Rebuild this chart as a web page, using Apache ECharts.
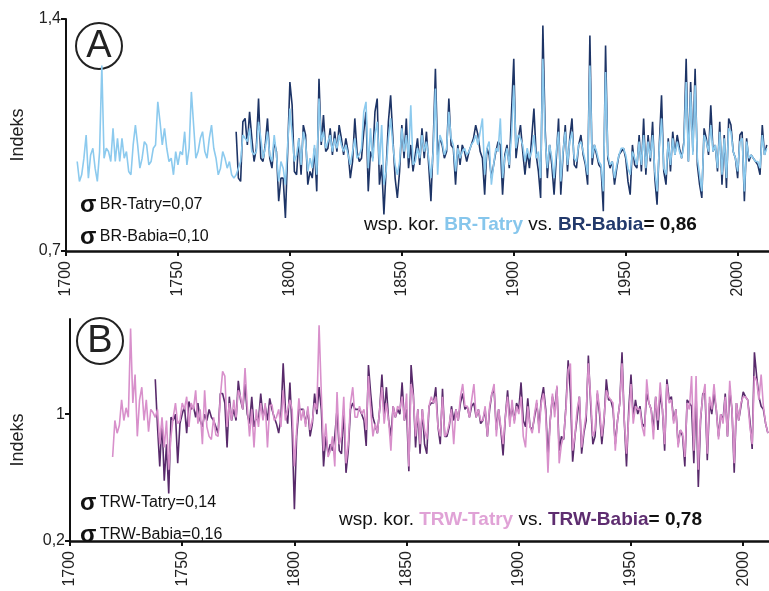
<!DOCTYPE html>
<html>
<head>
<meta charset="utf-8">
<script src="https://cdn.jsdelivr.net/npm/echarts@6/dist/echarts.min.js"></script>
<style>
  html, body { margin: 0; padding: 0; background: #fff; }
  #chart { width: 769px; height: 591px; }
</style>
</head>
<body>
<div id="chart"></div>
<script>
// panel A - BR index
const brTatryStart = 1705;
const brTatry = [
  0.97,0.91,0.93,0.98,1.05,0.92,0.99,1.01,0.95,0.91,
  1.00,1.26,0.98,1.01,1.00,0.97,1.07,0.97,1.04,0.97,
  1.04,0.98,1.00,0.94,0.93,1.02,1.08,1.02,0.95,0.98,
  1.03,1.02,0.96,0.97,1.01,1.02,1.15,1.09,1.02,1.07,
  1.01,0.97,0.98,0.93,1.00,0.96,1.00,0.99,1.06,0.96,
  1.01,1.18,1.08,0.98,1.00,1.04,1.06,1.00,0.98,1.04,
  1.08,1.01,0.98,0.93,0.95,1.00,0.98,0.95,0.97,0.93,
  0.92,
  0.93,0.95,0.97,1.05,1.04,1.03,1.07,1.00,0.99,1.00,
  1.09,1.04,0.98,1.01,1.06,0.99,0.97,1.05,0.99,0.91,
  0.97,0.95,0.90,1.02,1.13,1.05,0.97,0.99,1.04,0.96,
  1.06,1.03,0.94,0.98,0.95,1.02,0.93,1.16,1.03,1.06,
  1.01,1.03,1.05,1.00,1.04,1.01,1.05,1.02,1.00,1.02,
  0.99,
  0.96,1.00,1.04,0.98,0.99,1.01,1.12,1.15,0.95,1.07,
  0.97,1.05,1.09,0.96,1.08,0.90,0.94,1.04,1.10,1.02,
  0.96,0.93,0.97,1.07,1.00,1.05,0.98,1.14,0.96,0.97,
  1.01,0.98,1.05,1.00,1.03,0.98,0.92,1.00,1.19,0.93,
  1.05,1.03,0.99,1.01,1.12,1.04,1.02,0.94,1.01,0.98,
  1.00,1.01,0.99,1.00,1.02,1.03,1.05,1.02,1.06,1.10,
  0.93,1.01,
  1.03,0.90,0.96,1.01,1.00,1.10,0.92,0.98,1.01,0.96,
  1.05,1.20,1.01,1.05,1.04,1.02,0.97,1.01,0.98,1.00,
  1.05,0.98,1.00,0.92,1.28,1.04,0.95,1.02,0.98,0.92,
  1.00,1.06,0.91,1.00,1.06,0.96,1.03,1.06,0.98,0.97,
  1.02,1.03,1.00,0.97,0.93,1.26,0.98,1.02,1.00,0.97,
  0.96,0.88,1.24,0.99,0.96,0.97,0.92,0.96,0.99,1.01,
  1.01,0.99,
  0.95,0.93,1.00,0.98,0.96,1.03,0.96,1.05,0.95,1.03,
  0.98,1.05,0.94,0.88,1.01,1.10,0.95,0.93,1.03,0.96,
  1.04,0.99,1.03,1.00,0.98,1.02,1.21,0.97,1.18,0.99,
  1.20,0.98,0.93,0.88,1.05,1.03,1.00,1.08,1.00,1.02,
  0.95,1.06,0.93,1.04,0.92,1.07,1.06,1.00,0.98,0.94,
  1.03,1.04,0.88,1.03,0.98,0.99,0.98,0.97,0.97,0.95,
  1.05,0.99,1.01
];

const brBabiaStart = 1776;
const brBabia = [
  1.06,0.92,0.91,1.09,1.10,1.02,1.12,1.04,0.97,1.01,
  1.16,0.98,0.97,1.02,1.10,0.98,0.95,1.03,1.00,0.85,
  0.92,0.92,0.80,1.00,1.21,1.14,0.94,0.93,1.04,0.93,
  1.08,1.05,0.90,0.94,0.92,1.01,0.88,1.22,1.02,1.11,
  1.00,1.01,1.07,0.99,1.06,1.00,1.08,1.04,0.99,1.04,
  1.00,
  0.92,0.97,1.10,1.00,0.97,0.98,1.06,1.12,0.88,1.00,
  0.98,1.12,1.16,0.90,0.96,0.81,0.95,1.09,1.17,1.04,
  0.92,0.86,0.94,1.08,0.98,1.10,0.95,1.02,0.94,0.99,
  1.04,0.96,1.07,0.98,1.06,0.96,0.85,1.02,1.25,0.99,
  1.04,1.02,0.98,1.00,1.16,1.02,1.01,0.90,1.02,0.96,
  1.02,1.00,0.97,1.00,1.02,1.04,1.08,1.05,1.00,0.98,
  0.87,1.01,
  0.99,0.92,0.96,1.00,1.03,1.02,0.87,0.99,1.02,0.95,
  1.12,1.28,0.98,1.04,1.08,1.00,0.93,1.00,0.95,1.04,
  1.13,0.99,0.94,0.86,1.38,1.07,0.92,1.02,0.96,0.87,
  0.98,1.10,0.87,0.99,1.08,0.94,1.04,1.10,0.96,0.95,
  1.02,1.05,0.99,0.96,0.90,1.35,0.96,1.02,0.99,0.96,
  0.95,0.82,1.32,0.98,0.95,0.97,0.90,0.95,0.99,1.00,
  1.01,0.98,
  0.91,0.87,1.02,0.96,0.95,1.05,0.94,1.10,0.93,1.05,
  0.97,1.09,0.92,0.84,1.02,1.17,0.94,0.90,1.04,0.94,
  1.06,0.99,1.05,1.01,0.98,1.03,1.28,0.97,1.21,1.00,
  1.25,0.96,0.90,0.86,1.07,1.04,0.99,1.14,1.00,1.02,
  0.94,1.09,0.90,1.05,0.89,1.10,1.08,1.00,0.98,0.92,
  1.05,1.06,0.85,1.04,0.97,0.99,0.98,0.97,0.96,0.93,
  1.08,0.99,1.02
];

// panel B - TRW index
const trwTatryStart = 1719;
const trwTatry = [
  0.73,0.96,0.88,0.93,1.09,0.96,1.04,0.98,1.54,1.07,
  1.25,0.86,1.09,1.17,0.96,1.09,0.89,1.03,1.01,0.98,
  1.03,0.81,0.98,0.79,0.96,0.65,0.86,0.98,1.07,0.94,
  0.96,1.07,1.03,1.11,0.92,1.07,1.03,1.15,0.94,1.03,
  0.81,1.15,0.92,0.86,
  0.84,0.98,0.87,0.86,1.11,1.27,1.24,0.92,1.07,0.96,
  1.09,0.98,1.15,1.11,1.03,1.29,1.05,0.86,1.03,0.79,
  1.03,0.92,1.07,0.96,1.07,0.79,1.05,1.06,0.96,0.98,
  1.03,0.92,1.15,0.96,1.03,1.09,1.03,0.67,0.90,1.10,
  0.96,1.03,0.92,1.05,0.90,0.96,1.07,1.03,1.56,1.13,
  0.77,0.94,0.73,0.77,0.86,0.67,1.14,0.81,0.86,1.11,
  0.69,0.81,
  1.07,1.17,0.98,0.98,1.05,1.00,1.03,0.90,1.24,1.03,
  0.86,0.94,0.88,1.03,1.17,0.94,1.07,0.96,0.77,1.05,
  0.98,1.05,1.03,1.11,0.96,1.13,0.67,1.19,1.11,0.86,
  1.03,0.81,1.03,0.90,0.84,1.05,1.11,1.07,1.11,0.92,
  0.86,1.11,0.86,0.88,0.94,1.03,0.81,1.03,0.96,1.11,
  1.19,1.05,1.05,0.98,1.09,1.19,0.98,1.03,0.96,0.96,
  1.05,0.86,
  1.05,1.13,1.19,0.86,1.03,0.92,0.81,0.98,1.11,0.92,
  1.09,0.94,1.05,1.00,1.11,0.86,0.79,1.05,0.92,0.88,
  1.00,1.09,0.88,1.07,1.13,1.00,0.63,0.96,1.13,0.98,
  1.18,0.69,0.81,0.86,1.03,1.28,1.32,0.77,0.86,1.03,
  1.11,0.79,0.90,1.00,1.32,1.11,0.86,0.90,1.15,1.03,
  0.86,0.98,1.15,1.11,1.09,1.07,0.77,0.96,1.07,1.32,
  0.96,0.75,
  0.98,1.19,0.94,1.05,1.03,1.03,0.92,0.86,1.22,1.07,
  1.03,0.84,1.11,0.96,1.20,1.03,0.81,1.19,1.07,1.09,
  0.94,1.03,0.79,0.90,0.88,0.73,1.07,1.03,1.24,0.77,
  1.24,0.65,0.98,1.11,1.19,0.75,1.11,1.03,1.19,1.03,
  0.84,1.00,0.94,1.11,0.86,1.21,1.03,0.69,1.07,0.96,
  1.07,1.11,1.11,1.09,0.92,0.81,1.24,1.21,1.09,1.25,
  1.05,0.94,0.88
];

const trwBabiaStart = 1738;
const trwBabia = [
  1.22,0.92,0.67,0.96,0.58,0.81,0.50,0.98,0.96,1.00,
  0.69,0.94,1.00,1.05,0.88,1.08,1.03,1.05,0.98,1.07,
  0.96,0.92,1.00,0.96,1.03,
  0.98,0.96,0.92,0.88,1.13,1.13,1.07,0.79,1.11,0.96,
  1.03,0.96,1.21,1.09,1.03,1.19,1.00,0.94,1.11,0.92,
  0.98,0.96,1.13,0.98,1.05,0.96,1.10,1.03,0.98,0.94,
  0.88,0.98,1.32,1.03,0.94,1.20,0.90,0.40,0.86,1.03,
  1.03,1.03,0.94,1.03,0.86,0.94,1.13,1.00,1.17,1.03,
  0.67,0.86,0.75,0.81,0.77,0.86,1.03,0.77,0.75,1.03,
  0.63,0.77,
  1.03,1.07,1.03,1.03,1.03,1.00,0.96,0.80,1.31,1.13,
  0.98,0.93,0.88,1.03,1.25,1.00,1.17,0.96,0.86,1.05,
  0.98,1.03,1.00,1.20,0.96,1.03,0.64,1.31,1.13,0.79,
  1.03,0.75,1.03,0.81,0.75,1.05,1.07,1.07,1.17,0.92,
  0.81,1.16,0.86,0.86,0.92,1.05,0.96,1.03,0.96,1.07,
  1.13,1.03,1.05,0.98,1.05,1.07,0.98,1.03,0.94,0.96,
  1.03,0.86,
  1.03,1.13,1.15,0.90,1.03,0.90,0.74,0.98,1.15,0.96,
  1.05,0.96,1.07,1.03,1.20,0.96,0.92,1.10,0.92,0.90,
  0.98,1.07,0.92,1.09,1.17,1.03,0.73,0.96,1.11,1.03,
  1.17,0.77,0.86,0.84,1.05,1.34,1.13,0.70,0.86,0.98,
  1.11,0.75,0.88,0.96,1.37,1.07,0.81,0.86,1.13,1.00,
  0.81,0.96,1.22,1.09,1.09,1.03,0.81,0.96,1.07,1.39,
  0.96,0.67,
  1.03,1.25,0.98,1.09,1.00,1.05,0.94,0.92,1.13,1.07,
  1.03,0.90,1.11,0.90,1.13,1.03,0.77,1.22,1.09,1.11,
  0.96,1.03,0.81,0.90,0.86,0.67,1.09,1.07,1.05,0.69,
  1.13,0.54,0.96,1.13,1.13,0.71,1.07,1.00,1.13,1.03,
  0.86,1.00,0.96,1.13,0.86,1.15,1.03,0.63,1.07,0.96,
  1.05,1.14,1.11,1.09,0.96,0.78,1.39,1.24,1.11,1.05,
  1.03,0.94,0.88
];

const yearTicks = [1700, 1750, 1800, 1850, 1900, 1950, 2000];
const ticksA = [0.7, 1.4];
const ticksB = [0.2, 1];

const FONT = '"Liberation Sans", Arial, sans-serif';
const C_TATRY_BR = '#8ccaee';
const C_BABIA_BR = '#1d3466';
const C_TATRY_TRW = '#d890cb';
const C_BABIA_TRW = '#582a6b';

function pairs(start, arr) {
  return arr.map((v, i) => [start + i, v]);
}

function fmtComma(v) {
  if (Math.abs(v - Math.round(v)) < 1e-9) return String(Math.round(v));
  return v.toFixed(1).replace('.', ',');
}

function xAxisCfg(gridIndex, max) {
  return {
    type: 'value', gridIndex: gridIndex, min: 1700, max: max,
    axisLine: { show: true, lineStyle: { color: '#111', width: 2.5 } },
    axisTick: { show: true, length: 5, customValues: yearTicks, lineStyle: { color: '#111', width: 2 } },
    axisLabel: {
      customValues: yearTicks, rotate: 90, margin: 10, fontSize: 16, color: '#222', fontFamily: FONT,
      formatter: v => String(Math.round(v))
    },
    splitLine: { show: false }
  };
}

function yAxisCfg(gridIndex, min, max, ticks) {
  return {
    type: 'value', gridIndex: gridIndex, min: min, max: max,
    axisLine: { show: true, lineStyle: { color: '#111', width: 2 } },
    axisTick: { show: true, length: 5, customValues: ticks, lineStyle: { color: '#111', width: 2 } },
    axisLabel: { customValues: ticks, margin: 5, fontSize: 16, color: '#222', fontFamily: FONT, formatter: fmtComma },
    splitLine: { show: false }
  };
}

function lineSeries(name, data, color, xi) {
  return {
    name: name, type: 'line', xAxisIndex: xi, yAxisIndex: xi,
    data: data, showSymbol: false, symbol: 'none',
    lineStyle: { color: color, width: 1.6 },
    itemStyle: { color: color },
    animation: false, silent: true
  };
}

const chart = echarts.init(document.getElementById('chart'));

const sigmaRich = {
  s: { font: 'bold 24px ' + FONT, fill: '#111' },
  n: { font: '16px ' + FONT, fill: '#111' }
};

function corrRich(cT, cB) {
  return {
    n: { font: '19px ' + FONT, fill: '#111' },
    t: { font: 'bold 19px ' + FONT, fill: cT },
    b: { font: 'bold 19px ' + FONT, fill: cB },
    k: { font: 'bold 19px ' + FONT, fill: '#111' }
  };
}

const option = {
  backgroundColor: '#fff',
  animation: false,
  grid: [
    { left: 66, right: 0, top: 19, height: 232 },
    { left: 70, right: 0, top: 319, height: 222 }
  ],
  xAxis: [xAxisCfg(0, 2014), xAxisCfg(1, 2011.5)],
  yAxis: [yAxisCfg(0, 0.7, 1.4, ticksA), yAxisCfg(1, 0.2, 1.6, ticksB)],
  series: [
    lineSeries('BR-Babia', pairs(brBabiaStart, brBabia), C_BABIA_BR, 0),
    lineSeries('BR-Tatry', pairs(brTatryStart, brTatry), C_TATRY_BR, 0),
    lineSeries('TRW-Babia', pairs(trwBabiaStart, trwBabia), C_BABIA_TRW, 1),
    lineSeries('TRW-Tatry', pairs(trwTatryStart, trwTatry), C_TATRY_TRW, 1)
  ],
  graphic: [
    // panel letters
    { type: 'circle', shape: { cx: 99, cy: 46, r: 23 }, style: { fill: 'none', stroke: '#222', lineWidth: 2 } },
    { type: 'text', x: 99, y: 47, style: { text: 'A', font: '38px ' + FONT, fill: '#222', align: 'center', verticalAlign: 'middle' } },
    { type: 'circle', shape: { cx: 100, cy: 341, r: 23 }, style: { fill: 'none', stroke: '#222', lineWidth: 2 } },
    { type: 'text', x: 100, y: 342, style: { text: 'B', font: '38px ' + FONT, fill: '#222', align: 'center', verticalAlign: 'middle' } },
    // y axis names
    { type: 'text', x: 18, y: 135, rotation: Math.PI / 2, style: { text: 'Indeks', font: '18px ' + FONT, fill: '#222', align: 'center', verticalAlign: 'middle' } },
    { type: 'text', x: 18, y: 440, rotation: Math.PI / 2, style: { text: 'Indeks', font: '18px ' + FONT, fill: '#222', align: 'center', verticalAlign: 'middle' } },
    // sigma labels
    { type: 'text', x: 80, y: 205, style: { text: '{s|σ} {n|BR-Tatry=0,07}', verticalAlign: 'middle', rich: sigmaRich } },
    { type: 'text', x: 80, y: 237, style: { text: '{s|σ} {n|BR-Babia=0,10}', verticalAlign: 'middle', rich: sigmaRich } },
    { type: 'text', x: 80, y: 503, style: { text: '{s|σ} {n|TRW-Tatry=0,14}', verticalAlign: 'middle', rich: sigmaRich } },
    { type: 'text', x: 80, y: 535, style: { text: '{s|σ} {n|TRW-Babia=0,16}', verticalAlign: 'middle', rich: sigmaRich } },
    // correlation labels
    { type: 'text', x: 364, y: 225, style: {
      text: '{n|wsp. kor. }{t|BR-Tatry}{n| vs. }{b|BR-Babia}{k|= 0,86}', verticalAlign: 'middle',
      rich: corrRich('#86c6ec', '#22396b') } },
    { type: 'text', x: 339, y: 520, style: {
      text: '{n|wsp. kor. }{t|TRW-Tatry}{n| vs. }{b|TRW-Babia}{k|= 0,78}', verticalAlign: 'middle',
      rich: corrRich('#e0a2d6', '#5e2d70') } }
  ]
};

chart.setOption(option);
</script>
</body>
</html>
